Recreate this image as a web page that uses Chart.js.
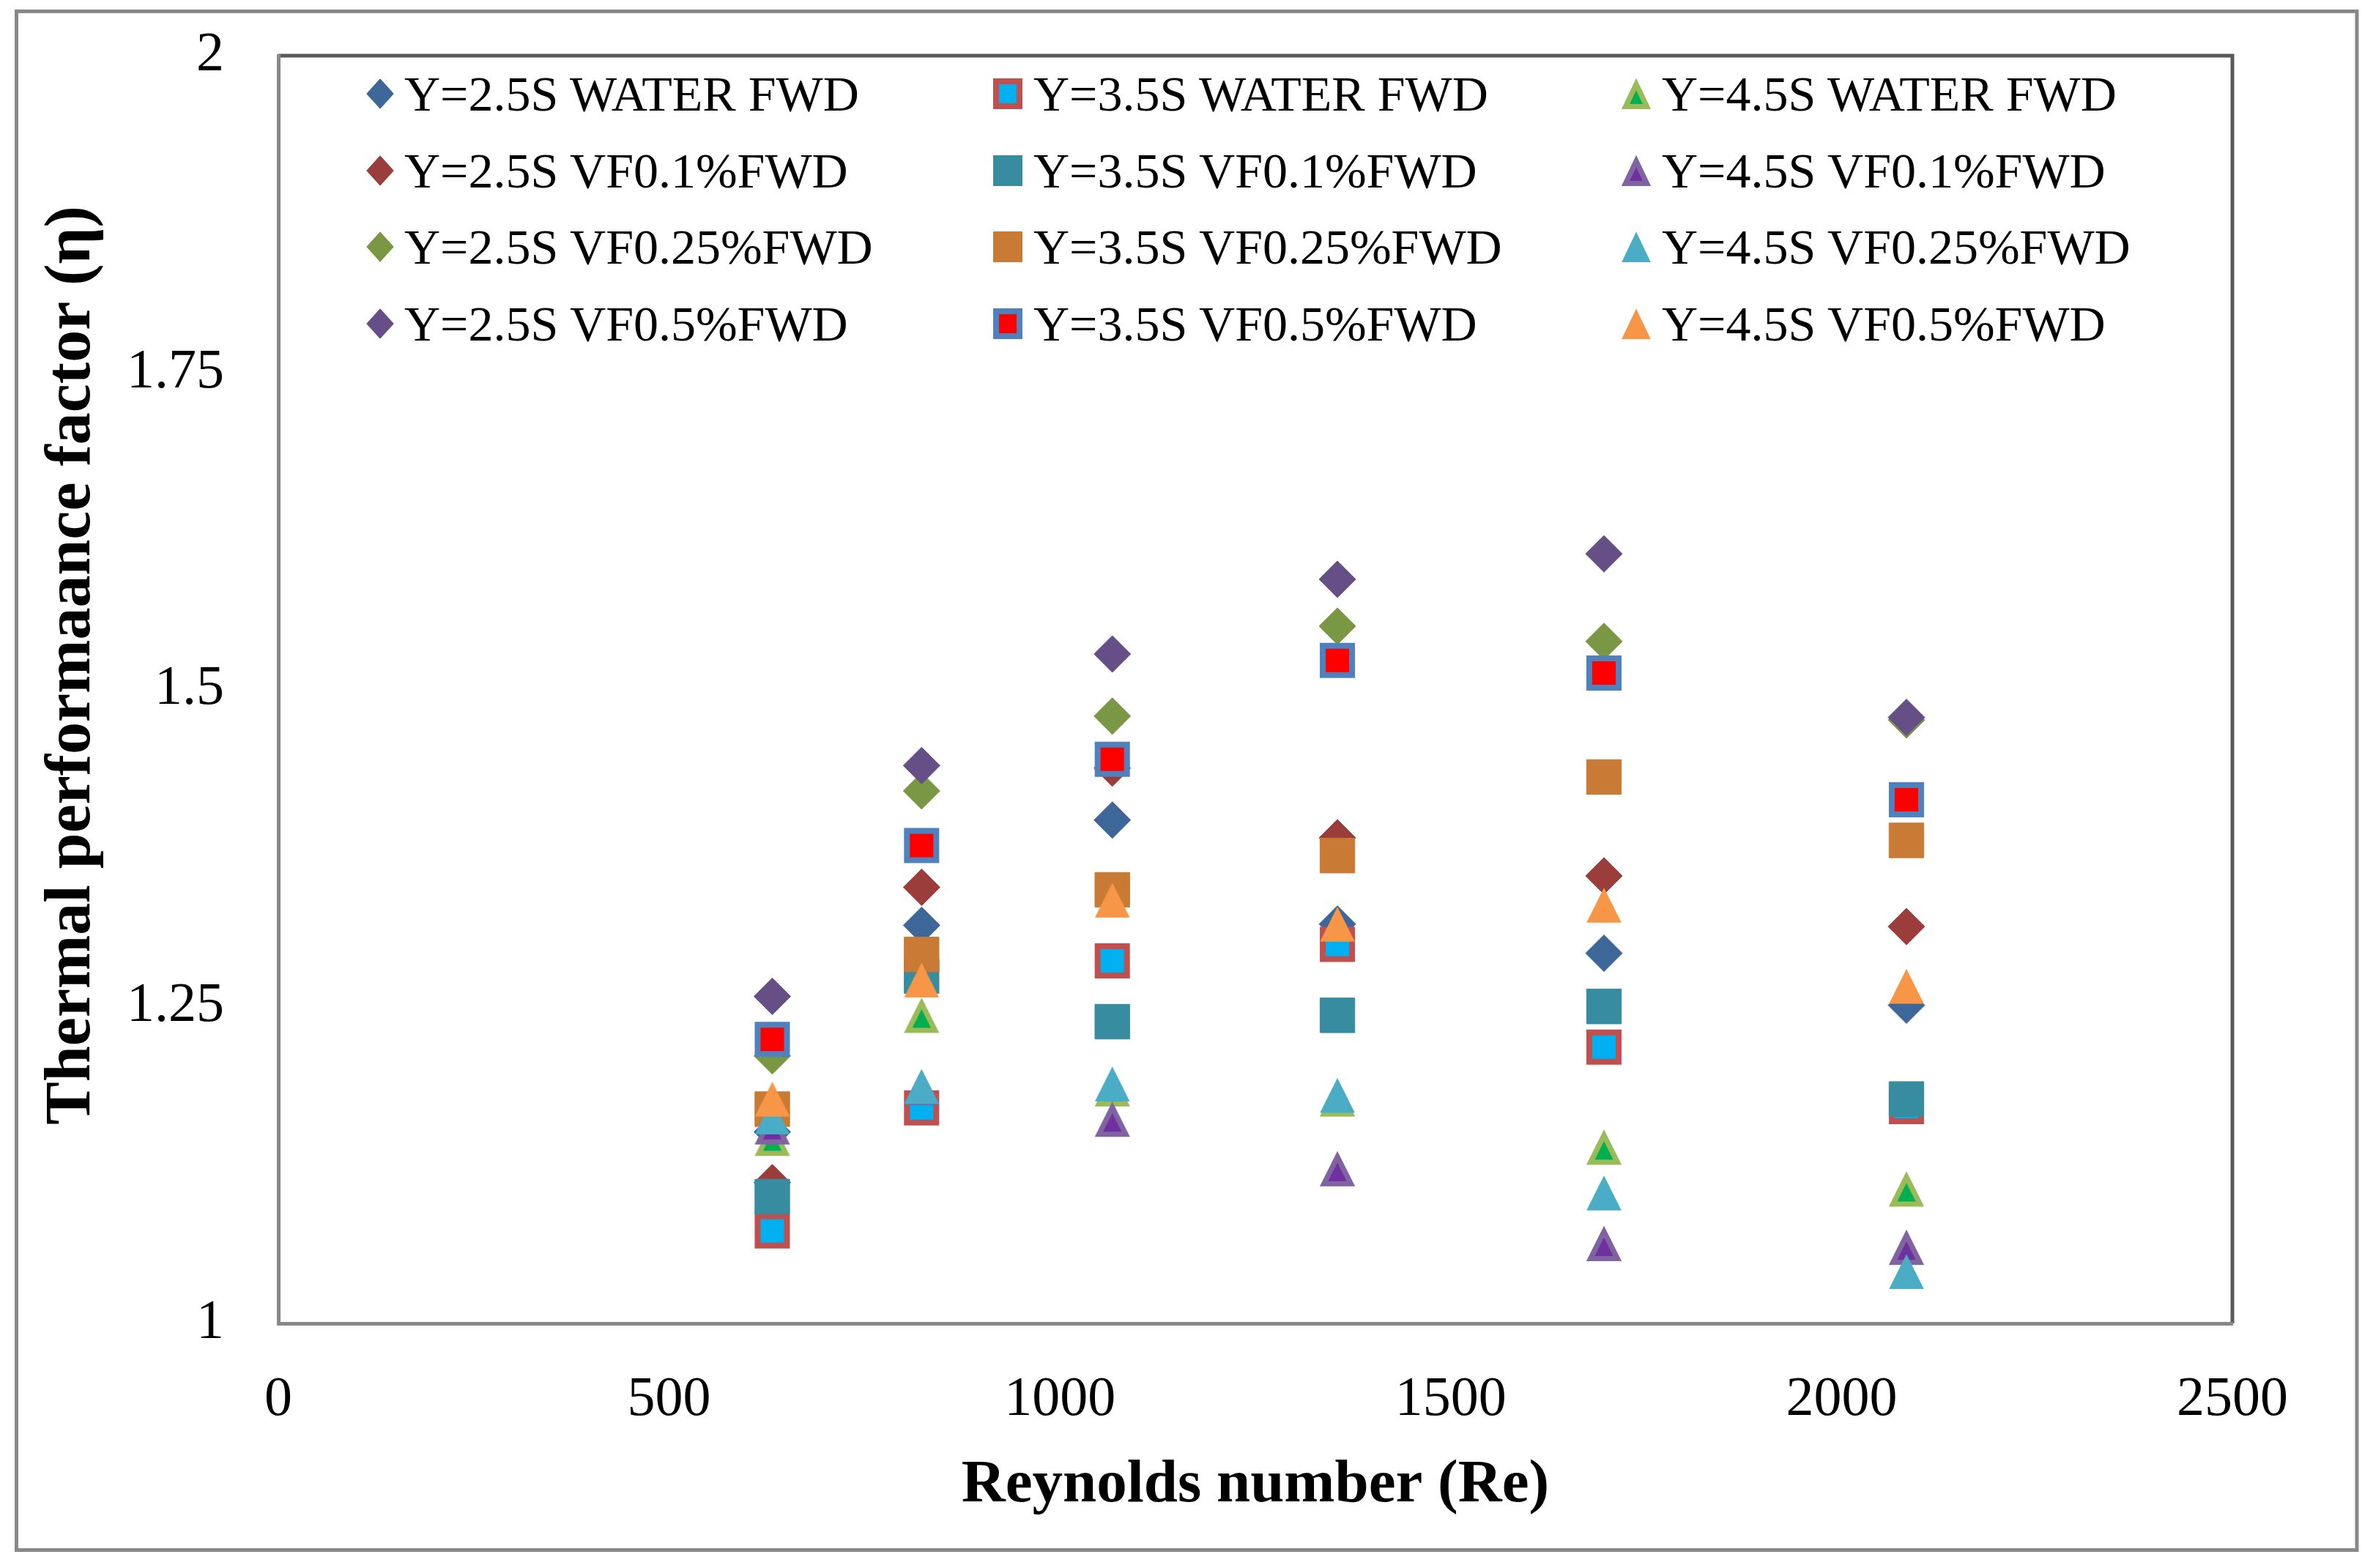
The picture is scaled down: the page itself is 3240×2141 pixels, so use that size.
<!DOCTYPE html>
<html>
<head>
<meta charset="utf-8">
<script src="https://cdn.jsdelivr.net/npm/chart.js@4.4.1/dist/chart.umd.min.js"></script>
<style>
  html, body { margin: 0; padding: 0; background: #fff; }
  #wrap { position: relative; width: 3240px; height: 2141px; }
  #legend canvas { position: absolute; }
  #legend span {
    position: absolute; font-family: 'Liberation Serif', 'Times New Roman', serif;
    font-size: 68px; line-height: 1; color: #000; white-space: nowrap;
  }
</style>
</head>
<body>
<div id="wrap">
  <canvas id="myChart" width="3240" height="2141"></canvas>
  <div id="legend"></div>
</div>
<script>
  // data
  var reynolds = [632, 823, 1067, 1355, 1696, 2083];

  var water25 = [1.151, 1.314, 1.397, 1.315, 1.292, 1.251];
  var water35 = [1.073, 1.170, 1.286, 1.299, 1.218, 1.171];
  var water45 = [1.146, 1.243, 1.185, 1.177, 1.139, 1.106];
  var vf01_25 = [1.111, 1.344, 1.438, 1.383, 1.353, 1.313];
  var vf01_35 = [1.100, 1.274, 1.238, 1.243, 1.250, 1.177];
  var vf01_45 = [1.155, 1.186, 1.161, 1.122, 1.063, 1.060];
  var vf025_25 = [1.211, 1.420, 1.479, 1.550, 1.538, 1.476];
  var vf025_35 = [1.169, 1.291, 1.342, 1.369, 1.431, 1.381];
  var vf025_45 = [1.163, 1.187, 1.189, 1.180, 1.103, 1.041];
  var vf05_25 = [1.258, 1.440, 1.528, 1.587, 1.607, 1.478];
  var vf05_35 = [1.224, 1.377, 1.445, 1.523, 1.513, 1.413];
  var vf05_45 = [1.177, 1.271, 1.334, 1.315, 1.330, 1.266];

  var seriesLabels = [
    'Y=2.5S WATER FWD', 'Y=3.5S WATER FWD', 'Y=4.5S WATER FWD',
    'Y=2.5S VF0.1%FWD', 'Y=3.5S VF0.1%FWD', 'Y=4.5S VF0.1%FWD',
    'Y=2.5S VF0.25%FWD', 'Y=3.5S VF0.25%FWD', 'Y=4.5S VF0.25%FWD',
    'Y=2.5S VF0.5%FWD', 'Y=3.5S VF0.5%FWD', 'Y=4.5S VF0.5%FWD'
  ];
  var seriesValues = [water25, water35, water45, vf01_25, vf01_35, vf01_45,
                      vf025_25, vf025_35, vf025_45, vf05_25, vf05_35, vf05_45];

  var xTicks = [0, 500, 1000, 1500, 2000, 2500];
  var yTicks = [1, 1.25, 1.5, 1.75, 2];

  // marker looks: shape, fill, outline colour, outline width
  var markers = [
    ['diamond', '#3C6798', null, 0],
    ['square', '#00B0F0', '#C0504D', 8],
    ['triangle', '#00B050', '#9BBB59', 7],
    ['diamond', '#9B3D3B', null, 0],
    ['square', '#388CA0', null, 0],
    ['triangle', '#7030A0', '#8064A2', 7],
    ['diamond', '#7A9744', null, 0],
    ['square', '#C97A35', null, 0],
    ['triangle', '#4BACC6', null, 0],
    ['diamond', '#664F87', null, 0],
    ['square', '#FF0000', '#4F81BD', 8],
    ['triangle', '#F79646', null, 0]
  ];

  var serif = "'Liberation Serif', 'Times New Roman', serif";

  // draws a marker inside a w x h box on its own little canvas
  function makeMarker(shape, w, h, fill, stroke, bw) {
    var c = document.createElement('canvas');
    c.width = w + 2; c.height = h + 2;
    var ctx = c.getContext('2d');
    var x0 = 1, y0 = 1;
    ctx.beginPath();
    if (shape == 'diamond') {
      ctx.moveTo(x0 + w / 2, y0); ctx.lineTo(x0 + w, y0 + h / 2);
      ctx.lineTo(x0 + w / 2, y0 + h); ctx.lineTo(x0, y0 + h / 2);
    } else if (shape == 'triangle') {
      ctx.moveTo(x0 + w / 2, y0); ctx.lineTo(x0 + w, y0 + h); ctx.lineTo(x0, y0 + h);
    } else {
      ctx.rect(x0, y0, w, h);
    }
    ctx.closePath();
    ctx.lineJoin = 'round';
    ctx.save();
    ctx.clip();
    ctx.fillStyle = fill;
    ctx.fill();
    if (stroke) {
      ctx.lineWidth = bw * 2;
      ctx.strokeStyle = stroke;
      ctx.stroke();
    }
    ctx.restore();
    return c;
  }

  var datasets = seriesValues.map(function (vals, i) {
    var m = markers[i];
    var ds = {
      label: seriesLabels[i],
      data: vals.map(function (v, j) { return { x: reynolds[j], y: v }; }),
      showLine: false,
      order: seriesValues.length - i,
      backgroundColor: m[1],
      borderColor: m[2] || m[1],
      borderWidth: m[2] ? m[3] : 1
    };
    if (m[0] == 'diamond') {
      ds.pointStyle = 'rectRot';
      ds.pointRadius = 25;
    } else if (m[0] == 'square') {
      ds.pointStyle = 'rect';
      ds.pointRadius = m[2] ? 28.3 : 33.5;
    } else {
      ds.pointStyle = makeMarker('triangle', 48, 48, m[1], m[2], m[3]);
      ds.pointRadius = 24;
    }
    return ds;
  });

  var frames = {
    id: 'frames',
    beforeDraw: function (chart) {
      var ctx = chart.ctx, a = chart.chartArea;
      ctx.save();
      ctx.fillStyle = '#fff';
      ctx.fillRect(0, 0, chart.width, chart.height);
      ctx.lineWidth = 5;
      ctx.strokeStyle = '#888888';
      ctx.strokeRect(22.5, 15.5, 3195.5, 2101);
      ctx.strokeStyle = '#595959';
      ctx.beginPath();
      ctx.moveTo(a.left, a.top);
      ctx.lineTo(a.right, a.top);
      ctx.lineTo(a.right, a.bottom);
      ctx.stroke();
      ctx.restore();
    }
  };

  // config
  var config = {
    type: 'scatter',
    data: { datasets: datasets },
    plugins: [frames],
    options: {
      responsive: false,
      animation: false,
      devicePixelRatio: 1,
      events: [],
      layout: { padding: { left: 0, top: 76, right: 192, bottom: 0 } },
      plugins: {
        legend: { display: false },
        tooltip: { enabled: false }
      },
      scales: {
        x: {
          type: 'linear',
          min: xTicks[0],
          max: xTicks[xTicks.length - 1],
          afterFit: function (scale) {
            scale.height = 334;
            scale.paddingLeft = 0;
            scale.paddingRight = 0;
          },
          grid: { display: false, drawTicks: false },
          border: { display: true, color: '#888888', width: 5 },
          ticks: {
            stepSize: xTicks[1] - xTicks[0],
            padding: 59,
            color: '#000',
            font: { family: serif, size: 76 },
            callback: function (v) { return String(v); }
          },
          title: {
            display: true,
            text: 'Reynolds number (Re)',
            color: '#000',
            font: { family: serif, size: 83, weight: 'bold' },
            padding: { top: 0, bottom: 63 }
          }
        },
        y: {
          type: 'linear',
          min: yTicks[0],
          max: yTicks[yTicks.length - 1],
          afterFit: function (scale) {
            scale.width = 380;
            scale.paddingTop = 0;
            scale.paddingBottom = 0;
          },
          grid: { display: false, drawTicks: false },
          border: { display: true, color: '#888888', width: 5 },
          ticks: {
            stepSize: yTicks[1] - yTicks[0],
            padding: 74,
            color: '#000',
            font: { family: serif, size: 76 },
            callback: function (v) { return String(v); }
          },
          title: {
            display: true,
            // leading spaces nudge the centred title up a little, as in the original
            text: '\u00A0\u00A0\u00A0Thermal performaance factor (η)',
            color: '#000',
            font: { family: serif, size: 88, weight: 'bold' },
            padding: { top: 46, bottom: 0 }
          }
        }
      }
    }
  };

  // render init block
  var myChart = new Chart(document.getElementById('myChart'), config);

  // legend: 3 columns x 4 rows inside the plot
  var legendMarkX = [519, 1376, 2234];
  var legendTextX = [552, 1411, 2269];
  var legendRows = [128, 233, 337, 442];
  var legend = document.getElementById('legend');
  seriesLabels.forEach(function (label, i) {
    var m = markers[i];
    var col = i % 3, rowY = legendRows[Math.floor(i / 3)];
    var w = m[0] == 'diamond' ? 38 : 40;
    var mk = makeMarker(m[0], w, 42, m[1], m[2], m[2] ? m[3] : 0);
    mk.style.left = (legendMarkX[col] - mk.width / 2) + 'px';
    mk.style.top = (rowY - mk.height / 2) + 'px';
    legend.appendChild(mk);
    var span = document.createElement('span');
    span.textContent = label;
    span.style.left = legendTextX[col] + 'px';
    span.style.top = (rowY - 34) + 'px';
    legend.appendChild(span);
  });
</script>
</body>
</html>
